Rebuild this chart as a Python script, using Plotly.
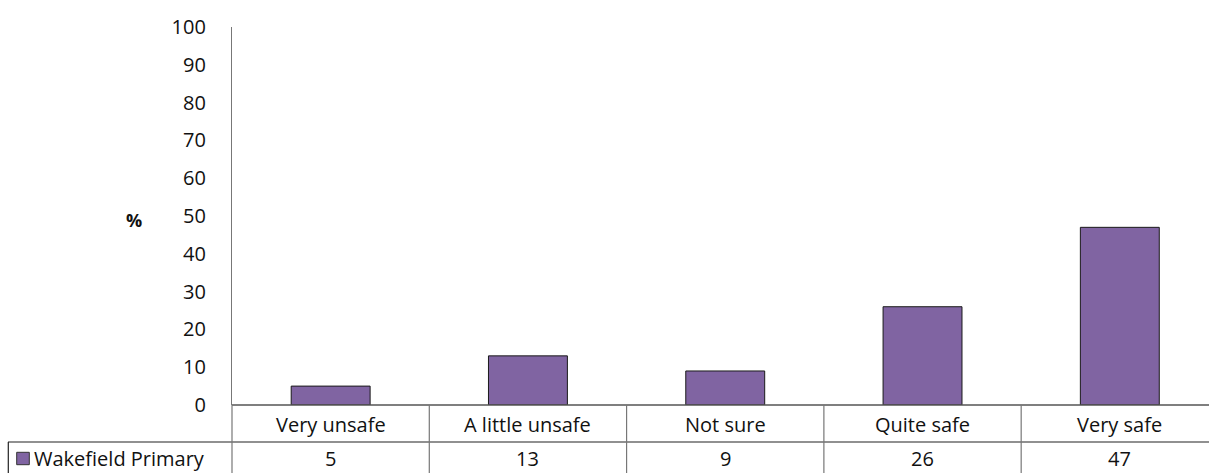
import plotly.graph_objects as go

categories = ["Very unsafe", "A little unsafe", "Not sure", "Quite safe", "Very safe"]
series_name = "Wakefield Primary"
values = [5, 13, 9, 26, 47]
y_ticks = [0, 10, 20, 30, 40, 50, 60, 70, 80, 90, 100]

W, H = 1209, 473
ML, MR, MT, MB = 232, 0, 27, 68
FONT = "Open Sans"
FS = 20
BAR = "#8064A2"
xs = list(range(len(categories)))
x_lo, x_hi = -0.5, 4.452

fig = go.Figure(go.Bar(
    x=xs, y=values, width=0.4,
    marker=dict(color=BAR, line=dict(color="#1a1a1a", width=1)),
    showlegend=False,
))

pw = W - ML - MR
ph = H - MT - MB


def px_x(p):
    return (p - ML) / pw


def px_y(p):
    return (H - MB - p) / ph


def data_to_paper_x(v):
    return (v - x_lo) / (x_hi - x_lo)


shapes = []
row1_y = px_y(442)
bottom_y = px_y(490)
# x-axis line / table top
shapes.append(dict(type="line", xref="paper", yref="paper", x0=0, x1=1.05, y0=0, y1=0,
                   line=dict(color="#555555", width=1.5)))
# row separator
shapes.append(dict(type="line", xref="paper", yref="paper", x0=px_x(8), x1=1.05, y0=row1_y, y1=row1_y,
                   line=dict(color="#222222", width=1.2)))
# left border of table legend cell
shapes.append(dict(type="line", xref="paper", yref="paper", x0=px_x(8.3), x1=px_x(8.3), y0=row1_y, y1=bottom_y,
                   line=dict(color="#222222", width=1.2)))
# vertical dividers
for b in [-0.5, 0.5, 1.5, 2.5, 3.5]:
    xp = data_to_paper_x(b)
    shapes.append(dict(type="line", xref="paper", yref="paper", x0=xp, x1=xp, y0=0, y1=bottom_y,
                       line=dict(color="#777777", width=1.2)))
# legend key
shapes.append(dict(type="rect", xref="paper", yref="paper", x0=px_x(16.7), x1=px_x(29.3),
                   y0=px_y(464.7), y1=px_y(452.3), fillcolor=BAR, line=dict(color="#333333", width=1)))

annotations = []
for x, c, v in zip(xs, categories, values):
    annotations.append(dict(x=x, y=px_y(424), xref="x", yref="paper", text=c, showarrow=False,
                            font=dict(family=FONT, size=FS, color="#111111"), xanchor="center", yanchor="middle"))
    annotations.append(dict(x=x, y=px_y(458), xref="x", yref="paper", text=str(v), showarrow=False,
                            font=dict(family=FONT, size=FS, color="#111111"), xanchor="center", yanchor="middle"))
annotations.append(dict(x=px_x(32), y=px_y(458), xref="paper", yref="paper", text=series_name, showarrow=False,
                        font=dict(family=FONT, size=FS, color="#111111"), xanchor="left", yanchor="middle"))
annotations.append(dict(x=px_x(134), y=px_y(220), xref="paper", yref="paper", text="<b>%</b>", showarrow=False,
                        font=dict(family=FONT, size=18, color="#111111"), xanchor="center", yanchor="middle"))

fig.update_layout(
    width=W, height=H,
    margin=dict(l=ML, r=MR, t=MT, b=MB, pad=0),
    paper_bgcolor="white", plot_bgcolor="white",
    font=dict(family=FONT, size=FS, color="#111111"),
    xaxis=dict(range=[x_lo, x_hi], showticklabels=False, showgrid=False, zeroline=False,
               showline=False, ticks="", fixedrange=True),
    yaxis=dict(range=[0, 100], tickvals=y_ticks, ticktext=[str(t) for t in y_ticks],
               showgrid=False, zeroline=False, showline=True, linecolor="#777777", linewidth=1.2,
               ticks="outside", ticklen=21, tickcolor="rgba(0,0,0,0)",
               tickfont=dict(family=FONT, size=FS, color="#111111")),
    shapes=shapes,
    annotations=annotations,
    showlegend=False,
    bargap=0.6,
)

fig.write_html("out.html", config={"displayModeBar": False},
               post_script="document.body.style.margin='0';document.body.style.overflow='hidden';")
